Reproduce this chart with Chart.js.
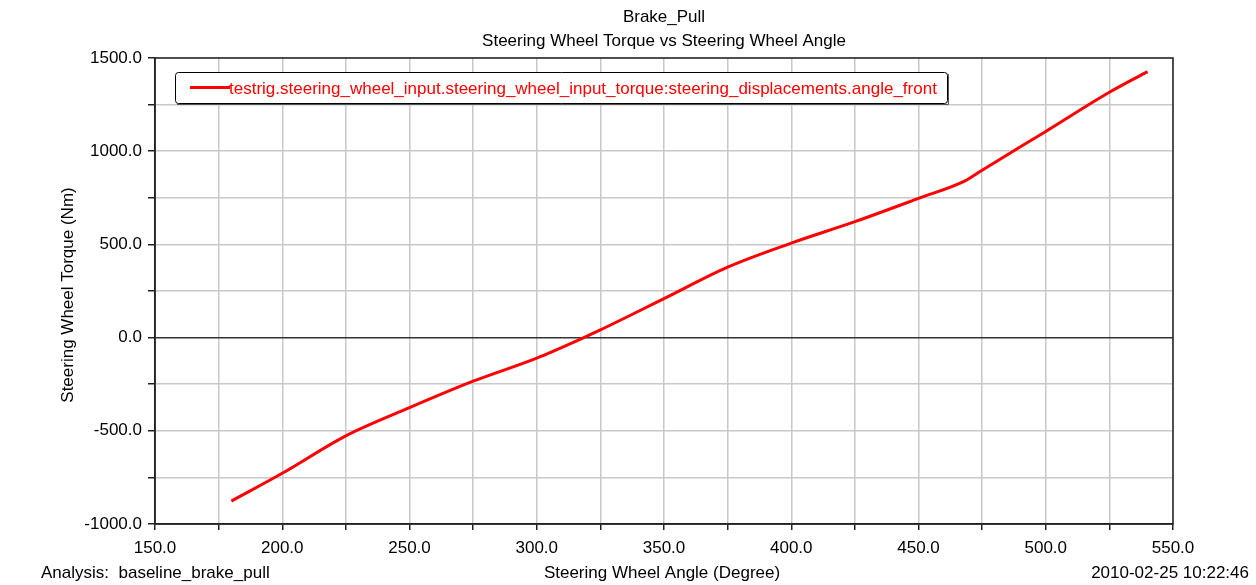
<!DOCTYPE html>
<html>
<head>
<meta charset="utf-8">
<script src="https://cdn.jsdelivr.net/npm/chart.js@4.4.1/dist/chart.umd.min.js"></script>
<style>
  html, body { margin: 0; padding: 0; background: #fff; }
  #wrap { width: 1256px; height: 585px; position: relative; }
</style>
</head>
<body>
<div id="wrap"><canvas id="c" width="1256" height="585"></canvas></div>
<script>
// Steering wheel angle (deg) and the torque measured at each angle (Nm)
const angleDeg = [180, 200, 225, 250, 275, 300, 318.5, 325, 350, 375, 400, 425, 450, 468.5, 475, 500, 525, 540];
const torqueNm = [-877, -728, -527, -376, -234, -110, 0, 41, 209, 378, 507, 622, 747, 842, 898, 1106, 1316, 1427];

const seriesLabel = 'testrig.steering_wheel_input.steering_wheel_input_torque:steering_displacements.angle_front';
const titleLines = ['Brake_Pull', 'Steering Wheel Torque vs Steering Wheel Angle'];
const xAxisTitle = 'Steering Wheel Angle (Degree)';
const yAxisTitle = 'Steering Wheel Torque (Nm)';
const analysisText = 'Analysis:  baseline_brake_pull';
const stampText = '2010-02-25 10:22:46';

const FONT = '"Liberation Sans", Arial, sans-serif';
const FONT_SIZE = 17;
const GRID = '#c8c8c8';

const points = angleDeg.map((a, i) => ({ x: a, y: torqueNm[i] }));

// Frame, titles, footer texts and the boxed legend inside the plot
const decorations = {
  id: 'decorations',
  afterDraw(chart) {
    const { ctx, chartArea: a } = chart;
    ctx.save();
    // plot frame
    ctx.strokeStyle = '#222';
    ctx.lineWidth = 1.5;
    ctx.strokeRect(a.left, a.top, a.right - a.left, a.bottom - a.top);

    ctx.fillStyle = '#000';
    ctx.font = FONT_SIZE + 'px ' + FONT;
    ctx.textBaseline = 'middle';
    ctx.textAlign = 'center';
    const cx = (a.left + a.right) / 2;
    ctx.fillText(titleLines[0], cx, 17);
    ctx.fillText(titleLines[1], cx, 41);
    ctx.fillText(xAxisTitle, 662, 573);
    ctx.textAlign = 'left';
    ctx.fillText(analysisText, 41, 573);
    ctx.textAlign = 'right';
    ctx.fillText(stampText, 1249, 573);

    // rotated y axis title
    ctx.save();
    ctx.translate(68, 295);
    ctx.rotate(-Math.PI / 2);
    ctx.textAlign = 'center';
    ctx.fillText(yAxisTitle, 0, 0);
    ctx.restore();

    // legend box
    const lx = 175, ly = 72, lw = 772, lh = 31;
    ctx.fillStyle = '#fff';
    ctx.strokeStyle = '#000';
    ctx.lineWidth = 1;
    ctx.beginPath();
    ctx.roundRect(lx + 0.5, ly + 0.5, lw, lh, 3);
    ctx.fill();
    ctx.stroke();
    ctx.strokeStyle = '#555';
    ctx.beginPath();
    ctx.moveTo(lx + 2, ly + lh + 1.5);
    ctx.lineTo(lx + lw + 1.5, ly + lh + 1.5);
    ctx.lineTo(lx + lw + 1.5, ly + 2);
    ctx.stroke();

    const ds = chart.data.datasets[0];
    ctx.strokeStyle = ds.borderColor;
    ctx.lineWidth = 3;
    ctx.beginPath();
    ctx.moveTo(190, 87.5);
    ctx.lineTo(230, 87.5);
    ctx.stroke();
    ctx.fillStyle = ds.borderColor;
    ctx.textAlign = 'left';
    ctx.textBaseline = 'middle';
    ctx.fillText(ds.label, 229, 89);
    ctx.restore();
  }
};

new Chart(document.getElementById('c'), {
  type: 'line',
  data: {
    datasets: [{
      label: seriesLabel,
      data: points,
      borderColor: '#ff0000',
      borderWidth: 3,
      pointRadius: 0,
      fill: false,
      cubicInterpolationMode: 'monotone'
    }]
  },
  options: {
    responsive: false,
    animation: false,
    devicePixelRatio: 1,
    layout: { padding: { top: 58, right: 83, left: 0, bottom: 0 } },
    plugins: { legend: { display: false }, title: { display: false }, tooltip: { enabled: false } },
    scales: {
      x: {
        type: 'linear',
        min: 150, max: 550,
        afterFit(s) { s.height = 61; },
        border: { color: '#222', width: 1.5 },
        grid: {
          color: GRID,
          lineWidth: 1.5,
          tickColor: '#222',
          tickLength: 6,
          drawOnChartArea: true
        },
        ticks: {
          stepSize: 25,
          autoSkip: false,
          maxRotation: 0,
          padding: 8,
          color: '#000',
          font: { family: FONT, size: FONT_SIZE },
          callback: v => (v % 50 === 0 ? v.toFixed(1) : '')
        }
      },
      y: {
        type: 'linear',
        min: -1000, max: 1500,
        afterFit(s) { s.width = 155; },
        border: { color: '#222', width: 1.5 },
        grid: {
          color: c => (c.tick && c.tick.value === 0 ? '#333' : GRID),
          lineWidth: 1.5,
          tickColor: '#222',
          tickLength: 7
        },
        ticks: {
          stepSize: 250,
          autoSkip: false,
          padding: 6,
          color: '#000',
          font: { family: FONT, size: FONT_SIZE },
          callback: v => (v % 500 === 0 ? v.toFixed(1) : '')
        }
      }
    }
  },
  plugins: [decorations]
});
</script>
</body>
</html>
